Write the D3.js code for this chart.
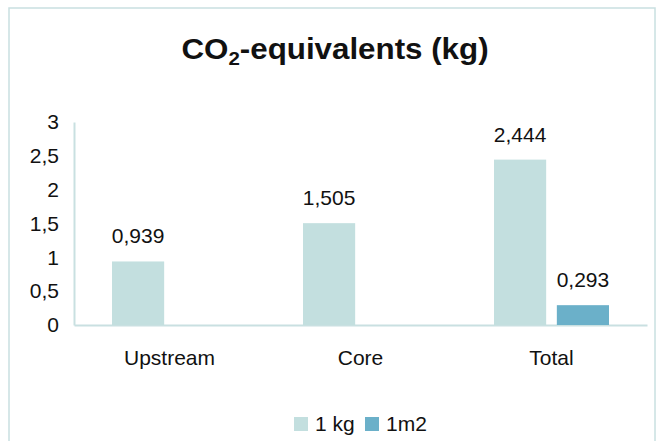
<!DOCTYPE html>
<html>
<head>
<meta charset="utf-8">
<script src="https://cdn.jsdelivr.net/npm/d3@7"></script>
<style>
	body { margin: 0; background: #fff; }
	text { font-family: "Liberation Sans", Arial, sans-serif; fill: #111; }
</style>
</head>
<body>
<div id="chart"></div>
<script>
const categories = ["Upstream", "Core", "Total"];
const seriesNames = ["1 kg", "1m2"];
const kgValues = [0.939, 1.505, 2.444];
const m2Values = [null, null, 0.293];
const yTicks = [0, 0.5, 1, 1.5, 2, 2.5, 3];
const colors = ["#c3dfdf", "#6bb0c9"];

let canvasWidth = 657, canvasHeight = 441;
let margin = { top: 122, right: 10, bottom: 116, left: 74 };
let width = canvasWidth - margin.left - margin.right;
let height = canvasHeight - margin.top - margin.bottom;

let fmt = (v) => String(v).replace(".", ",");

let svg = d3.select("#chart").append("svg")
	.attr("width", canvasWidth)
	.attr("height", canvasHeight);

// outer frame
svg.append("rect")
	.attr("x", 9).attr("y", 8)
	.attr("width", 646).attr("height", 460)
	.attr("fill", "none")
	.attr("stroke", "#c9e0e1")
	.attr("stroke-width", 1.5);

// title (slightly widened like the original)
let title = svg.append("g")
	.attr("transform", "translate(335,59) scale(1.08,1)")
	.append("text")
	.attr("text-anchor", "middle")
	.style("font-size", "29px")
	.style("font-weight", "bold");
title.append("tspan").text("CO");
title.append("tspan").attr("dy", 6).style("font-size", "19px").text("2");
title.append("tspan").attr("dy", -6).text("-equivalents (kg)");

let g = svg.append("g").attr("transform", "translate(" + margin.left + "," + margin.top + ")");

let y = d3.scaleLinear().domain([0, 3]).range([height, 0]);
let x0 = d3.scaleBand().domain(categories).range([0, width]).paddingInner(0).paddingOuter(0);
let x1 = d3.scaleBand().domain([0, 1]).range([38, x0.bandwidth() - 38]).paddingInner(0.17);

// y axis
let yAxis = g.append("g")
	.call(d3.axisLeft(y).tickValues(yTicks).tickSize(0).tickPadding(15).tickFormat(fmt));
yAxis.select(".domain").attr("stroke", "#c9e0e1").attr("stroke-width", 2);
yAxis.selectAll(".tick text").style("font-size", "21px").attr("fill", "#111");

// x axis
let xAxis = g.append("g")
	.attr("transform", "translate(0," + height + ")")
	.call(d3.axisBottom(x0).tickSize(0).tickPadding(25));
xAxis.select(".domain").attr("stroke", "#c9e0e1").attr("stroke-width", 2);
xAxis.selectAll(".tick text").style("font-size", "21px").attr("fill", "#111");

// bars
let series = [kgValues, m2Values];
series.forEach((vals, si) => {
	let data = categories.map((c, i) => ({ c: c, v: vals[i] })).filter((d) => d.v != null);
	g.selectAll(".bar-" + si)
		.data(data)
		.enter().append("rect")
		.attr("class", "bar-" + si)
		.attr("x", (d) => x0(d.c) + x1(si))
		.attr("width", x1.bandwidth())
		.attr("y", (d) => y(d.v))
		.attr("height", (d) => height - y(d.v))
		.attr("fill", colors[si]);
	g.selectAll(".lbl-" + si)
		.data(data)
		.enter().append("text")
		.attr("class", "lbl-" + si)
		.attr("x", (d) => x0(d.c) + x1(si) + x1.bandwidth() / 2)
		.attr("y", (d) => y(d.v) - 18)
		.attr("text-anchor", "middle")
		.style("font-size", "21px")
		.text((d) => fmt(d.v));
});

// legend
let legendX = [294, 365];
let legend = svg.append("g").selectAll("g")
	.data(seriesNames)
	.enter().append("g")
	.attr("transform", (d, i) => "translate(" + legendX[i] + ",417)");
legend.append("rect")
	.attr("width", 14).attr("height", 14)
	.attr("fill", (d, i) => colors[i]);
legend.append("text")
	.attr("x", 21).attr("y", 14)
	.style("font-size", "21px")
	.text((d) => d);
</script>
</body>
</html>
